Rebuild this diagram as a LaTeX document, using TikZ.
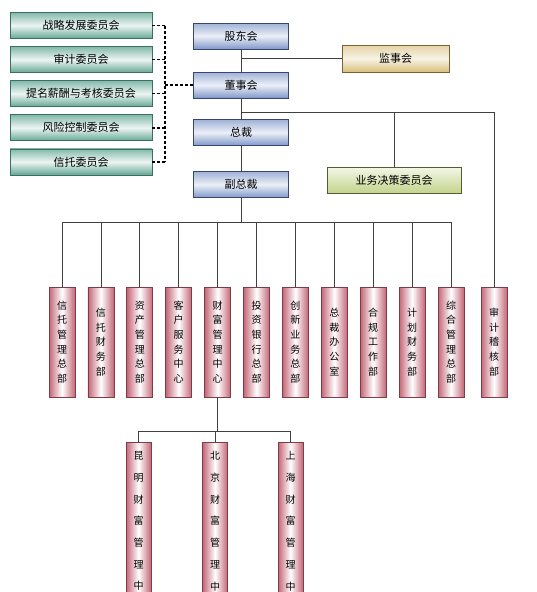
\documentclass[tikz,border=0pt]{standalone}
\usepackage{xcolor}
\usepackage{fontspec}
\setmainfont{Noto Sans CJK SC}
\usetikzlibrary{
  positioning,
  calc
}
\definecolor{orgTeal}{HTML}{64A894}
\definecolor{orgTealDk}{HTML}{3C6E62}
\definecolor{orgBlue}{HTML}{7F98CA}
\definecolor{orgBlueDk}{HTML}{3A4670}
\definecolor{orgGold}{HTML}{D9C07E}
\definecolor{orgGoldDk}{HTML}{7A6236}
\definecolor{orgLime}{HTML}{C4D48C}
\definecolor{orgLimeDk}{HTML}{4E5E2E}
\definecolor{orgRose}{HTML}{C46676}
\definecolor{orgRoseDk}{HTML}{7E3C48}
\definecolor{orgLine}{HTML}{404040}
\tikzset{
  orgnode/.style={
    draw, minimum height=26pt, inner sep=1pt, line width=0.8pt,
    font=\fontsize{11}{13}\selectfont, align=center
  },
  committee/.style={orgnode, minimum width=142pt, draw=orgTealDk,
    top color=orgTeal!80, bottom color=orgTeal, middle color=orgTeal!12},
  board/.style={orgnode, minimum width=95pt, draw=orgBlueDk,
    top color=orgBlue!75, bottom color=orgBlue, middle color=orgBlue!15},
  supervisor/.style={orgnode, minimum width=107pt, minimum height=27pt, draw=orgGoldDk,
    top color=orgGold!70, bottom color=orgGold, middle color=orgGold!20},
  bizcomm/.style={orgnode, minimum width=134pt, draw=orgLimeDk,
    top color=orgLime!20, bottom color=orgLime},
  dept/.style={orgnode, minimum width=26pt, minimum height=110pt, draw=orgRoseDk,
    font=\fontsize{10}{14.7}\selectfont,
    left color=orgRose, right color=orgRose, middle color=white},
  branch/.style={dept, minimum width=25pt, minimum height=180pt,
    font=\fontsize{10}{21.7}\selectfont},
  link/.style={line width=0.8pt, orgLine},
  dashlink/.style={line width=1.4pt, black, dash pattern=on 3pt off 2pt}
}
\begin{document}
\begin{tikzpicture}[x=1pt, y=-1pt]
  \useasboundingbox (0,0) rectangle (536,592);
  \clip (0,0) rectangle (536,592);
  % board and management
  \node[board] (gdh) at (241,36) {股东会};
  \node[board] (dsh) at (241,85) {董事会};
  \node[board] (zc) at (241,132.5) {总裁};
  \node[board] (fzc) at (241,184.5) {副总裁};
  \node[supervisor] (jsh) at (395.5,58.5) {监事会};
  \node[bizcomm] (ywjc) at (394,180) {业务决策委员会};
  % committees
  \node[committee] (c1) at (81,25.5) {战略发展委员会};
  \node[committee, below=7.3pt of c1] (c2) {审计委员会};
  \node[committee, below=7.3pt of c2] (c3) {提名薪酬与考核委员会};
  \node[committee, below=7.3pt of c3] (c4) {风险控制委员会};
  \node[committee, below=7.3pt of c4] (c5) {信托委员会};
  % departments
  \node[dept] (d1) at (62,342) {信\\托\\管\\理\\总\\部};
  \node[dept, right=12.1pt of d1] (d2) {信\\托\\财\\务\\部};
  \node[dept, right=12.1pt of d2] (d3) {资\\产\\管\\理\\总\\部};
  \node[dept, right=12.1pt of d3] (d4) {客\\户\\服\\务\\中\\心};
  \node[dept, right=12.1pt of d4] (d5) {财\\富\\管\\理\\中\\心};
  \node[dept, right=12.1pt of d5] (d6) {投\\资\\银\\行\\总\\部};
  \node[dept, right=12.1pt of d6] (d7) {创\\新\\业\\务\\总\\部};
  \node[dept, right=12.1pt of d7] (d8) {总\\裁\\办\\公\\室};
  \node[dept, right=12.1pt of d8] (d9) {合\\规\\工\\作\\部};
  \node[dept, right=12.1pt of d9] (d10) {计\\划\\财\\务\\部};
  \node[dept, right=12.1pt of d10] (d11) {综\\合\\管\\理\\总\\部};
  \node[dept] (d12) at (494,342) {审\\计\\稽\\核\\部};
  % wealth centres
  \node[branch] (b1) at (138.5,532) {昆\\明\\财\\富\\管\\理\\中\\心};
  \node[branch] (b2) at (215,532) {北\\京\\财\\富\\管\\理\\中\\心};
  \node[branch] (b3) at (290.5,532) {上\\海\\财\\富\\管\\理\\中\\心};
  % connectors
  \coordinate (rt) at (494,112);
  \coordinate (bus) at (0,222);
  \coordinate (bus2) at (0,431);
  \coordinate (cbar) at (165,0);
  \draw[link] (gdh) -- (dsh);
  \draw[link] (jsh.west) -- (jsh.west -| gdh.south);
  \draw[link] (dsh) -- (zc);
  \draw[link] (dsh.south |- rt) -- (rt) -- (d12.north);
  \draw[link] (ywjc.north |- rt) -- (ywjc.north);
  \draw[link] (zc) -- (fzc);
  \draw[link] (fzc.south) -- (fzc.south |- bus);
  \draw[link] (d1.north |- bus) -- (d11.north |- bus);
  \foreach \i in {1,...,11}
    \draw[link] (d\i.north |- bus) -- (d\i.north);
  \draw[link] (d5.south) -- (d5.south |- bus2);
  \draw[link] (b1.north |- bus2) -- (b3.north |- bus2);
  \foreach \i in {1,2,3}
    \draw[link] (b\i.north |- bus2) -- (b\i.north);
  % committee bracket
  \foreach \i in {1,...,5}
    \draw[dashlink] (c\i.east) -- (c\i.east -| cbar);
  \draw[dashlink] (c1.east -| cbar) -- (c5.east -| cbar);
  \draw[dashlink] (dsh.west -| cbar) -- (dsh.west);
\end{tikzpicture}
\end{document}
